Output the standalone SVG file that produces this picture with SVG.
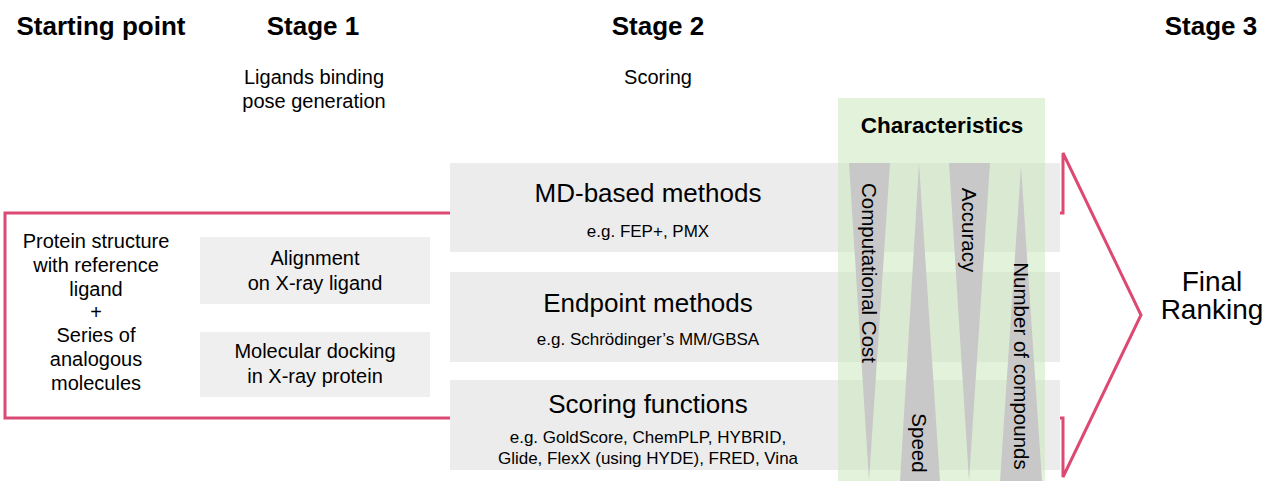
<svg xmlns="http://www.w3.org/2000/svg" width="1264" height="481" viewBox="0 0 1264 481">
<style>
text{font-family:"Liberation Sans",Arial,sans-serif;fill:#000;text-anchor:middle}
.h{font-weight:bold;font-size:26px}
.sub{font-size:20px}
.box{fill:#ececec}
.b1{fill:#efefef}
.big{font-size:26px}
.eg{font-size:17px}
.tri{fill:#c8c8c8}
.vt{font-size:20.5px}
</style>
<g id="connectors">
<path d="M1063,213 H5 V418 H1063 V477 L1141,315 L1063,153 Z" fill="none" stroke="#dc4a73" stroke-width="3" stroke-linejoin="miter"/>
</g>
<g id="headers">
<text class="h" x="101" y="35">Starting point</text>
<text class="h" x="313" y="35">Stage 1</text>
<text class="h" x="658" y="35">Stage 2</text>
<text class="h" x="1211" y="35">Stage 3</text>
<text class="sub" x="314" y="84">Ligands binding</text>
<text class="sub" x="314" y="108">pose generation</text>
<text class="sub" x="658" y="84">Scoring</text>
</g>
<g id="start">
<text class="sub" x="96" y="248">Protein structure</text>
<text class="sub" x="96" y="272">with reference</text>
<text class="sub" x="96" y="296">ligand</text>
<text class="sub" x="96" y="319">+</text>
<text class="sub" x="96" y="342">Series of</text>
<text class="sub" x="96" y="366">analogous</text>
<text class="sub" x="96" y="390">molecules</text>
</g>
<g id="alignment">
<rect class="b1" x="200" y="237" width="230" height="67"/>
<text class="sub" x="315" y="265">Alignment</text>
<text class="sub" x="315" y="290">on X-ray ligand</text>
</g>
<g id="docking">
<rect class="b1" x="200" y="332" width="230" height="65"/>
<text class="sub" x="315" y="358">Molecular docking</text>
<text class="sub" x="315" y="383">in X-ray protein</text>
</g>
<g id="md">
<rect class="box" x="450" y="163" width="610" height="89"/>
<text class="big" x="648" y="202">MD-based methods</text>
<text class="eg" x="648" y="237">e.g. FEP+, PMX</text>
</g>
<g id="endpoint">
<rect class="box" x="450" y="272" width="610" height="90"/>
<text class="big" x="648" y="312">Endpoint methods</text>
<text class="eg" x="648" y="345">e.g. Schrödinger’s MM/GBSA</text>
</g>
<g id="scoring">
<rect class="box" x="450" y="380" width="610" height="90"/>
<text class="big" x="648" y="413">Scoring functions</text>
<text class="eg" x="648" y="443">e.g. GoldScore, ChemPLP, HYBRID,</text>
<text class="eg" x="648" y="464">Glide, FlexX (using HYDE), FRED, Vina</text>
</g>
<g id="characteristics">
<rect x="838" y="98" width="207" height="383" fill="#c8e6b8" opacity="0.5"/>
<text x="942" y="133" style="font-weight:bold;font-size:22.5px">Characteristics</text>
<polygon class="tri" points="849,163 890,163 869,481"/>
<polygon class="tri" points="919,163 940,481 900,481"/>
<polygon class="tri" points="949,163 990,163 969,481"/>
<polygon class="tri" points="1021,166 1042,481 1000,481"/>
<text class="vt" transform="translate(869,273) rotate(90)" dy="7">Computational Cost</text>
<text class="vt" transform="translate(919,443) rotate(90)" dy="7">Speed</text>
<text class="vt" transform="translate(969,230) rotate(90)" dy="7">Accuracy</text>
<text class="vt" transform="translate(1021,366) rotate(90)" dy="7">Number of compounds</text>
</g>
<g id="final">
<text x="1212" y="291" style="font-size:28px">Final</text>
<text x="1212" y="319" style="font-size:28px">Ranking</text>
</g>
</svg>
